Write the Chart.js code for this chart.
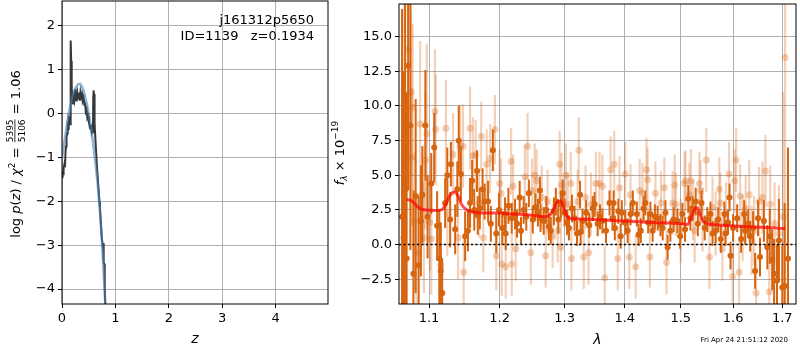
<!DOCTYPE html>
<html>
<head>
<meta charset="utf-8">
<script src="https://cdn.jsdelivr.net/npm/chart.js@4"></script>
<style>
body{margin:0;background:#fff}
#wrap{position:relative;width:800px;height:350px}
canvas{position:absolute;top:0}
</style>
</head>
<body>
<div id="wrap">
<canvas id="pz-chart" width="330" height="350" style="left:0"></canvas>
<canvas id="spec-chart" width="470" height="350" style="left:330px"></canvas>
</div>
<script>
// p(z) panel
const zTicks = [0,1,2,3,4]
const pzTicks = [-4,-3,-2,-1,0,1,2]
const zRange = [0, 4.98]
const pzRange = [-4.34, 2.57]

const pzZ = [0,0.01,0.02,0.03,0.045,0.056,0.065,0.075,0.085,0.095,0.106,0.115,0.125,0.135,0.145,0.152,0.16,0.165,0.172,0.178,0.185,0.192,0.2,0.21,0.22,0.23,0.244,0.255,0.265,0.275,0.29,0.3,0.315,0.33,0.345,0.36,0.375,0.39,0.405,0.42,0.43,0.445,0.46,0.475,0.49,0.505,0.525,0.54,0.555,0.57,0.58,0.585,0.59,0.6,0.61,0.62,0.64,0.66,0.68,0.7,0.71,0.725,0.74,0.757,0.765,0.77,0.775,0.785,0.794,0.8,0.81,0.83]
const pzLog = [-1.45,-1.3,-1.38,-1.25,-1.15,-1.22,-0.9,-0.75,-0.55,-0.45,-0.31,-0.35,-0.15,-0.2,-0.05,-0.24,0.4,1.67,1.2,0.35,0.6,0.25,0.45,0.23,0.35,0.3,0.56,0.3,0.4,0.28,0.45,0.35,0.48,0.3,0.49,0.38,0.45,0.3,0.35,0.2,0.26,0.05,0.1,-0.1,-0.05,-0.2,-0.34,-0.25,-0.4,-0.3,-0.45,0.4,0.53,0.45,-0.2,-0.46,-0.9,-1.3,-1.65,-2.0,-2.14,-2.45,-2.75,-2.97,-3.05,-2.95,-3.3,-3.4,-3.43,-3.9,-4.43,-4.9]
const fitZ = [0,0.05,0.1,0.15,0.2,0.25,0.3,0.34,0.38,0.42,0.46,0.5,0.54,0.58,0.62,0.66,0.7,0.74,0.78,0.81,0.84]
const fitLog = [-1.0,-0.6,-0.2,0.15,0.42,0.58,0.67,0.68,0.6,0.45,0.25,0.0,-0.3,-0.65,-1.05,-1.5,-2.05,-2.75,-3.6,-4.35,-5.1]

// spectrum panel
const lamTicks = [1.1,1.2,1.3,1.4,1.5,1.6,1.7]
const fluxTicks = [-2.5,0,2.5,5,7.5,10,12.5,15]
const lamRange = [1.06, 1.729]
const fluxRange = [-4.29, 17.36]
const zeroLevel = 0

const dkLam = [1.064,1.066,1.068,1.070,1.072,1.075,1.079,1.082,1.086,1.089,1.091,1.095,1.098,
  1.103,1.107,1.111,1.114,1.116,1.118,1.122,1.125,1.129,1.130,1.136,1.139,1.141,1.144,1.150,1.154,1.157,1.160,1.163,1.167,1.168,1.171,1.175,1.178,1.183,1.187,1.190,1.195,1.199,
  1.204,1.208,1.209,1.213,1.218,1.223,1.226,1.230,1.232,1.236,1.240,1.244,1.250,1.254,1.258,1.261,1.262,1.267,1.271,1.275,1.278,1.283,1.286,1.290,1.294,1.297,1.300,
  1.304,1.307,1.312,1.316,1.320,1.325,1.326,1.329,1.335,1.340,1.346,1.349,1.354,1.358,1.362,1.368,1.374,1.379,1.381,1.383,1.389,1.393,1.395,1.401,
  1.405,1.410,1.414,1.421,1.424,1.428,1.433,1.436,1.441,1.445,1.449,1.453,1.458,1.463,1.467,1.472,1.476,1.481,1.487,1.494,1.499,1.503,
  1.508,1.514,1.518,1.522,1.528,1.532,1.539,1.545,1.550,1.556,1.560,1.566,1.571,1.576,1.583,1.585,1.590,1.593,1.595,1.600,
  1.608,1.616,1.622,1.624,1.630,1.634,1.640,1.644,1.650,1.654,1.662,1.669,1.674,1.679,1.683,1.689,1.693,1.700,1.705,1.712]
const dkFlux = [2.0,0.5,4.0,-1.0,12.9,8.6,-2.1,3.5,-1.5,1.7,3.6,8.6,2.0,
  4.4,7.0,1.35,-1.0,-1.9,-3.5,3.0,5.0,1.8,5.8,1.1,4.0,7.5,5.1,0.6,1.0,3.0,4.6,2.5,5.3,2.1,2.6,4.0,3.1,3.1,1.5,6.8,0.8,2.5,
  1.2,2.2,0.8,2.8,1.9,2.2,1.5,3.4,1.0,2.5,2.0,3.7,1.8,2.7,2.3,3.9,1.9,1.7,2.5,1.3,1.0,2.4,3.1,1.8,2.9,3.7,2.3,
  1.6,1.2,2.6,1.9,0.8,3.6,0.9,1.7,2.3,1.4,2.6,2.9,1.5,2.0,1.7,1.0,3.0,1.9,3.0,1.2,2.4,0.6,2.3,1.6,
  1.0,2.2,3.0,2.2,0.7,1.0,2.6,3.0,1.6,2.2,1.0,2.0,1.9,1.4,1.2,2.3,-0.2,1.0,1.8,1.7,0.6,2.2,
  1.1,3.3,1.9,2.6,3.1,1.5,3.0,1.2,1.8,2.2,0.8,1.0,1.8,0.4,2.2,0.8,1.6,3.4,-0.8,1.2,
  1.9,0.4,2.2,1.0,1.5,0.6,1.2,-1.9,1.9,-0.9,1.7,-0.2,0.6,-1.1,-2.1,-2.6,0.3,-3.1,-3.0,-1.0]
const dkErr = [15,12,14,12,9,9,6,7,5,4,3.5,4,3,
  2.2,2.5,2.5,3.5,3.5,2.5,1.8,2.0,2.0,1.6,1.8,2.0,2.5,2.0,1.8,1.5,1.8,1.5,1.5,1.5,1.4,1.5,1.5,1.3,1.5,1.3,1.5,1.4,1.2,
  1.2,1.2,1.2,1.3,1.1,1.1,1.0,1.2,1.0,1.0,1.0,1.0,1.0,1.0,1.0,1.0,1.0,1.0,1.0,1.0,1.0,1.0,1.0,1.0,1.0,1.0,1.0,
  0.9,0.9,1.0,0.9,0.9,1.0,0.9,0.9,0.9,0.9,0.9,0.9,0.9,0.9,0.9,0.9,0.9,0.9,0.9,0.9,0.9,0.9,0.9,0.9,
  0.9,0.8,0.9,0.9,0.8,0.9,0.9,0.9,0.8,0.9,0.8,0.9,0.9,0.8,0.9,0.9,0.9,0.8,0.9,0.9,0.9,0.8,
  0.9,1.0,0.9,0.9,1.0,0.9,0.9,0.9,0.9,0.9,0.9,0.9,0.9,1.0,0.9,0.9,0.9,1.0,1.0,1.0,
  1.0,1.0,1.0,1.0,1.0,1.1,1.2,1.3,1.3,1.4,1.5,1.6,2.0,2.2,2.5,2.6,3.0,3.0,6.0,8.0]

const ltLam = [1.067,1.072,1.076,1.077,1.078,1.081,1.083,1.088,1.093,1.095,1.097,1.101,
  1.103,1.108,1.109,1.116,1.123,1.125,1.133,1.140,1.143,1.147,1.148,1.157,1.161,1.165,1.170,1.173,1.176,1.181,1.186,1.193,1.195,1.200,
  1.202,1.203,1.209,1.217,1.218,1.220,1.224,1.238,1.242,1.247,1.249,1.253,1.256,1.264,1.270,1.273,1.281,1.289,1.292,1.294,1.295,1.302,
  1.305,1.310,1.311,1.321,1.323,1.331,1.334,1.339,1.343,1.351,1.357,1.362,1.366,1.376,1.382,1.388,1.391,1.401,
  1.408,1.410,1.419,1.426,1.431,1.438,1.440,1.444,1.454,1.464,1.470,1.474,1.485,1.489,1.491,1.500,1.507,1.509,
  1.516,1.519,1.523,1.526,1.535,1.537,1.541,1.548,1.554,1.560,1.566,1.573,1.575,1.579,1.586,1.592,1.599,1.603,1.606,1.612,1.614,
  1.619,1.625,1.632,1.637,1.642,1.646,1.652,1.659,1.665,1.673,1.675,1.684,1.693,1.702,1.706]
const ltFlux = [6.0,14.1,11.0,6.3,9.9,1.7,-0.6,8.7,0.5,6.1,8.0,1.6,
  0.4,9.6,8.3,-1.5,8.4,2.2,6.5,0.5,7.1,7.1,-2.0,8.4,6.4,6.5,3.0,7.8,0.5,5.8,6.2,8.3,-0.8,4.4,
  3.7,-1.4,-1.6,6.0,-1.4,4.2,-0.3,4.9,7.1,-0.6,3.9,5.0,4.6,3.4,-0.8,3.1,0.6,1.0,5.8,-0.2,4.3,5.0,
  2.9,4.4,-1.0,3.1,6.8,-0.9,3.4,-0.6,2.9,4.4,4.4,4.2,-2.4,5.4,5.8,-1.0,4.1,5.1,
  -0.9,3.6,-1.6,3.9,3.7,5.4,4.7,-0.9,3.7,3.0,4.1,-1.3,3.0,4.3,2.9,1.0,4.4,4.6,
  3.6,4.6,2.5,1.0,4.4,3.9,1.8,6.1,-0.9,2.7,1.5,4.0,3.0,-0.3,2.2,5.1,-2.3,4.6,6.1,-2.0,3.5,
  1.2,2.6,3.6,0.3,1.0,-3.5,3.1,3.4,5.3,-3.4,2.9,1.5,0.8,2.0,13.5]
const ltErr = [12,8,6,5,6,5,4,6,4,5,6.5,3.5,
  4,4.5,4,3,3.5,3,3,3,3,3,2.5,3,2.8,2.5,2.5,2.5,2.5,2.5,2.5,2.5,2.5,2.5,
  2.5,2.3,2.3,2.4,2.3,2.3,2.3,2.3,2.4,2.3,2.3,2.3,2.3,2.3,2.3,2.3,2.3,2.3,2.4,2.3,2.3,2.3,
  2.3,2.3,2.3,2.3,2.4,2.3,2.3,2.3,2.3,2.3,2.3,2.3,2.3,2.4,2.4,2.3,2.3,2.3,
  2.3,2.2,2.3,2.3,2.2,2.3,2.3,2.2,2.3,2.3,2.2,2.3,2.3,2.2,2.3,2.3,2.3,2.2,
  2.3,2.3,2.2,2.3,2.3,2.2,2.3,2.3,2.3,2.2,2.3,2.3,2.2,2.3,2.3,2.3,2.3,2.3,2.3,2.3,2.3,
  2.4,2.4,2.5,2.5,2.5,2.5,2.5,2.6,2.6,2.8,2.8,3.0,3.5,9,20]

const modelLam = [1.070,1.075,1.080,1.085,1.090,1.095,1.100,1.110,1.117,1.122,1.127,1.132,1.136,1.140,1.145,1.150,1.155,1.160,1.170,1.185,1.200,1.220,1.240,1.260,1.270,1.278,1.284,1.290,1.294,1.298,1.303,1.308,1.320,1.350,1.400,1.450,1.500,1.512,1.520,1.527,1.531,1.536,1.542,1.550,1.580,1.620,1.660,1.706]
const modelFlux = [3.25,3.2,3.0,2.7,2.55,2.5,2.48,2.45,2.5,2.8,3.4,3.75,3.8,3.5,2.9,2.6,2.45,2.35,2.3,2.28,2.27,2.2,2.15,2.05,2.0,2.2,2.7,3.15,3.15,2.7,2.1,1.9,1.85,1.8,1.7,1.6,1.5,1.45,2.0,2.6,2.65,2.2,1.7,1.5,1.4,1.3,1.25,1.15]

const FONT = "DejaVu Sans"
const pts = (xs, ys) => xs.map((x,i)=>({x:x, y:ys[i]}))
const minus = s => s.replace("-", "\u2212")

// matplotlib style full box
const frame = {
    id:"frame",
    afterDatasetsDraw(chart){
        const {ctx, chartArea:a} = chart
        ctx.save()
        ctx.strokeStyle = "#000"
        ctx.lineWidth = 1
        ctx.strokeRect(a.left, a.top, a.right-a.left, a.bottom-a.top)
        ctx.restore()
    }
}

// vertical error bars, drawn right before their own dataset
const errorBars = {
    id:"errorBars",
    beforeDatasetDraw(chart, args){
        const ds = chart.data.datasets[args.index]
        if(!ds.errors) return
        const {ctx, chartArea:a, scales} = chart
        ctx.save()
        ctx.beginPath()
        ctx.rect(a.left, a.top, a.right-a.left, a.bottom-a.top)
        ctx.clip()
        ctx.strokeStyle = ds.errorColor
        ctx.lineWidth = ds.errorWidth
        ds.data.forEach((p,i)=>{
            const x = scales.x.getPixelForValue(p.x)
            ctx.beginPath()
            ctx.moveTo(x, scales.y.getPixelForValue(p.y - ds.errors[i]))
            ctx.lineTo(x, scales.y.getPixelForValue(p.y + ds.errors[i]))
            ctx.stroke()
        })
        ctx.restore()
    }
}

// rotated label with super/subscripts and a stacked fraction
function drawMathLabel(ctx, parts, x, y){
    let total = 0
    parts.forEach(p=>{
        ctx.font = p.font
        p.w = p.num ? Math.max(ctx.measureText(p.num).width, ctx.measureText(p.den).width) + 2 : ctx.measureText(p.text).width
        total += p.w
    })
    ctx.save()
    ctx.translate(x, y)
    ctx.rotate(-Math.PI/2)
    ctx.fillStyle = "#000"
    ctx.textBaseline = "alphabetic"
    let cx = -total/2
    parts.forEach(p=>{
        ctx.font = p.font
        if(p.num){
            ctx.textAlign = "center"
            ctx.fillText(p.num, cx+p.w/2, -6.5)
            ctx.fillText(p.den, cx+p.w/2, 5)
            ctx.fillRect(cx+1, -5, p.w-2, 0.8)
        }else{
            ctx.textAlign = "left"
            ctx.fillText(p.text, cx, p.dy||0)
        }
        cx += p.w
    })
    ctx.restore()
}

const norm = `13px '${FONT}'`
const ital = `italic 13px '${FONT}'`
const small = `9px '${FONT}'`

const pzLabels = {
    id:"pzLabels",
    afterDraw(chart){
        const ctx = chart.ctx
        ctx.save()
        ctx.fillStyle = "#000"
        ctx.font = norm
        ctx.textAlign = "right"
        ctx.fillText("j161312p5650", 314, 24)
        ctx.fillText("ID=1139   z=0.1934", 314, 40)
        ctx.restore()
        drawMathLabel(ctx, [
            {text:"log ", font:norm}, {text:"p", font:ital}, {text:"(", font:norm}, {text:"z", font:ital},
            {text:") / ", font:norm}, {text:"\u03c7", font:ital}, {text:"2", font:small, dy:-5},
            {text:" = ", font:norm}, {num:"5395", den:"5106", font:small}, {text:" = 1.06", font:norm}
        ], 19.5, 154)
    }
}

const specLabels = {
    id:"specLabels",
    afterDraw(chart){
        const ctx = chart.ctx
        drawMathLabel(ctx, [
            {text:"f", font:ital}, {text:"\u03bb", font:`italic 9px '${FONT}'`, dy:3},
            {text:" \u00d7 10", font:norm}, {text:"\u221219", font:small, dy:-6}
        ], 14, 153)
        ctx.save()
        ctx.fillStyle = "#000"
        ctx.font = `7px '${FONT}'`
        ctx.textAlign = "right"
        ctx.fillText("Fri Apr 24 21:51:12 2020", 458, 342)
        ctx.restore()
    }
}

const gridOpts = {color:"#b0b0b0", lineWidth:1, tickColor:"#000", tickLength:4}
const tickFont = {family:FONT, size:13}
// keep chart area exactly where matplotlib puts it
const fixX = h => s => {s.height = h; s.paddingLeft = 0; s.paddingRight = 0}
const fixY = w => s => {s.width = w; s.paddingTop = 0; s.paddingBottom = 0}

new Chart(document.getElementById("pz-chart"), {
    type:"scatter",
    data:{datasets:[
        {data:pts(fitZ, fitLog), showLine:true, borderColor:"rgba(70,130,180,0.6)", borderWidth:2.5, pointRadius:0},
        {data:pts(pzZ, pzLog), showLine:true, borderColor:"#383838", borderWidth:2, pointRadius:0}
    ]},
    options:{
        responsive:false, animation:false, events:[],
        layout:{padding:{left:0, right:2, top:1, bottom:0}},
        plugins:{legend:{display:false}, tooltip:{enabled:false}},
        scales:{
            x:{type:"linear", min:zRange[0], max:zRange[1],
                afterBuildTicks:s=>{s.ticks = zTicks.map(v=>({value:v}))},
                afterFit:fixX(46),
                grid:gridOpts, border:{display:false},
                ticks:{font:tickFont, color:"#000", padding:3, maxRotation:0, callback:v=>minus(String(v))},
                title:{display:true, text:"z", color:"#000", font:{family:FONT, size:14, style:"italic"}, padding:{top:0, bottom:2}}},
            y:{type:"linear", min:pzRange[0], max:pzRange[1],
                afterBuildTicks:s=>{s.ticks = pzTicks.map(v=>({value:v}))},
                afterFit:fixY(62),
                grid:gridOpts, border:{display:false},
                ticks:{font:tickFont, color:"#000", padding:3, callback:v=>minus(String(v))}}
        }
    },
    plugins:[frame, pzLabels]
})

const orange = "rgb(215,100,15)"
const orangeLight = "rgba(215,100,15,0.3)"

new Chart(document.getElementById("spec-chart"), {
    type:"scatter",
    data:{datasets:[
        {data:pts(modelLam, modelFlux), showLine:true, borderColor:"rgba(255,0,0,0.7)", borderWidth:3, pointRadius:0, cubicInterpolationMode:"monotone"},
        {data:pts(lamRange, [zeroLevel, zeroLevel]), showLine:true, borderColor:"#000", borderWidth:1.5, borderDash:[2,2.5], pointRadius:0},
        {data:pts(dkLam, dkFlux), errors:dkErr, errorColor:orange, errorWidth:2, pointRadius:3, pointBackgroundColor:orange, pointBorderWidth:0},
        {data:pts(ltLam, ltFlux), errors:ltErr, errorColor:orangeLight, errorWidth:2.2, pointRadius:3.5, pointBackgroundColor:orangeLight, pointBorderWidth:0}
    ]},
    options:{
        responsive:false, animation:false, events:[],
        layout:{padding:{left:0, right:2, top:1, bottom:0}},
        plugins:{legend:{display:false}, tooltip:{enabled:false}},
        scales:{
            x:{type:"logarithmic", min:lamRange[0], max:lamRange[1],
                afterBuildTicks:s=>{s.ticks = lamTicks.map(v=>({value:v}))},
                afterFit:fixX(46),
                grid:gridOpts, border:{display:false},
                ticks:{font:tickFont, color:"#000", padding:3, maxRotation:0, autoSkip:false, callback:v=>Number(v).toFixed(1)},
                title:{display:true, text:"\u03bb", color:"#000", font:{family:FONT, size:14, style:"italic"}, padding:{top:0, bottom:1}}},
            y:{type:"linear", min:fluxRange[0], max:fluxRange[1],
                afterBuildTicks:s=>{s.ticks = fluxTicks.map(v=>({value:v}))},
                afterFit:fixY(69),
                grid:gridOpts, border:{display:false},
                ticks:{font:tickFont, color:"#000", padding:3, callback:v=>minus(Number(v).toFixed(1))}}
        }
    },
    plugins:[frame, errorBars, specLabels]
})
</script>
</body>
</html>
